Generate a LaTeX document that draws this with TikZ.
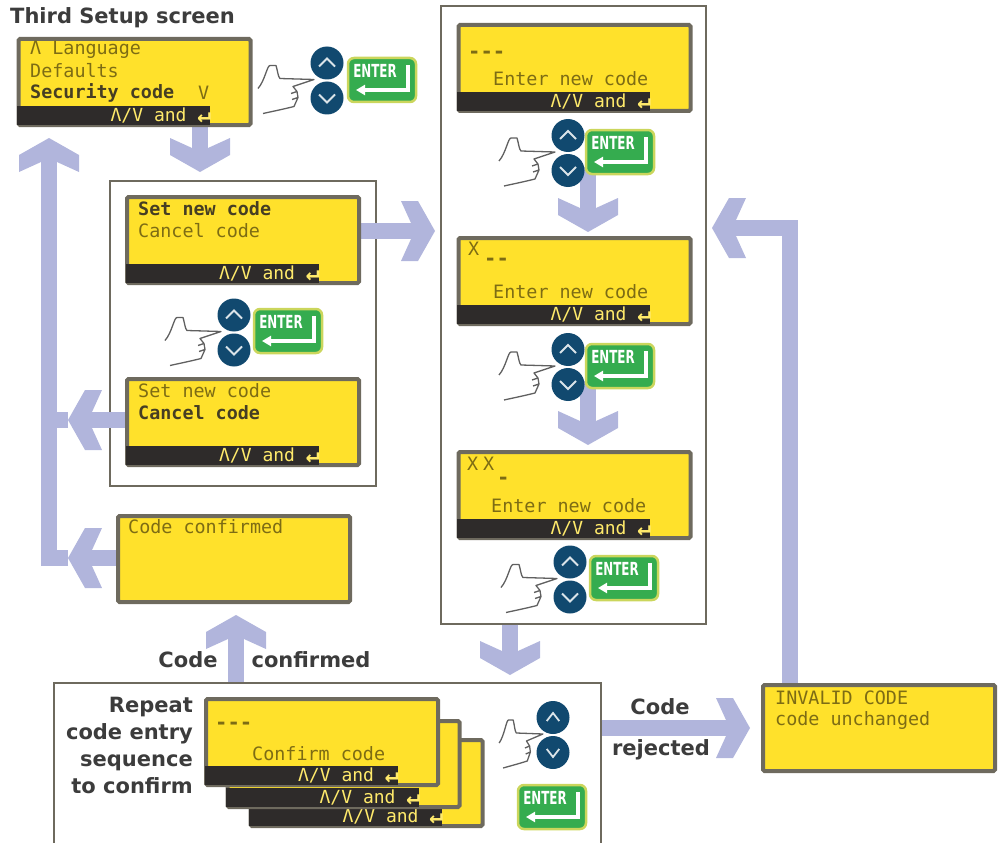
\documentclass[tikz,border=0pt]{standalone}
\usepackage{fontspec}
\setmainfont{DejaVu Sans}
\newfontfamily\lcdfont{DejaVu Sans Mono}
\usetikzlibrary{arrows.meta,backgrounds}
\definecolor{lcdyellow}{HTML}{FFE12B}
\definecolor{lcdframe}{HTML}{6E6A5E}
\definecolor{lcdink}{HTML}{7D6C14}
\definecolor{lcdbar}{HTML}{2E2B2A}
\definecolor{flowblue}{HTML}{B1B5DC}
\definecolor{keyblue}{HTML}{11496F}
\definecolor{keygreen}{HTML}{35AC4F}
\definecolor{keyrim}{HTML}{CBD65C}
\definecolor{inkgrey}{HTML}{3C3C3C}

% blunt wide head of the flow arrows
\pgfdeclarearrow{
    name=Blunt,
    setup code={
        \pgfarrowssetbackend{-34pt}
        \pgfarrowssetlineend{-20pt}
        \pgfarrowssettipend{0pt}
        \pgfarrowshullpoint{0pt}{0pt}
        \pgfarrowshullpoint{-34pt}{30pt}
        \pgfarrowshullpoint{-34pt}{-30pt}
    },
    drawing code={
        \pgfpathmoveto{\pgfpoint{0pt}{0pt}}
        \pgfpathlineto{\pgfpoint{-17pt}{30pt}}
        \pgfpathlineto{\pgfpoint{-34pt}{30pt}}
        \pgfpathlineto{\pgfpoint{-24pt}{8pt}}
        \pgfpathlineto{\pgfpoint{-24pt}{-8pt}}
        \pgfpathlineto{\pgfpoint{-34pt}{-30pt}}
        \pgfpathlineto{\pgfpoint{-17pt}{-30pt}}
        \pgfpathclose
        \pgfusepathqfill
    }
}

% one display: name, x, y of its centre
\newcommand{\lcdscreen}[3]{
    \node[screen] (#1) at (#2,#3) {};
}
% the dark line at the foot of a display
\newcommand{\lcdsoft}[1]{
    \node[softbar] (#1bar) at ([shift={(0.5,-1.5)}]#1.south west) {};
    \node[softtext] (#1soft) at ([xshift=1pt]#1bar.east) {Λ/V and \raisebox{-1pt}{\fontsize{23}{23}\selectfont\bfseries ↵}};
}

\tikzset{
    handkeys/.pic={
        \draw[hand] (-69,8) .. controls (-62,0) and (-60,-15) .. (-57,-15) -- (-51,-15) .. controls (-49,-8) and (-49,-4) .. (-47,-2)
            -- (-13,-1) -- (-34,6) -- (-30,11) -- (-36,13) (-30,11) -- (-29,17) -- (-35,19) (-29,17) -- (-33,26) .. controls (-45,29) and (-55,31) .. (-64,33);
        \node[keyround] (-up) at (0,-17.5) {};
        \node[keyround] (-down) at (0,17.5) {};
        \draw[keymark] (-8,-14) -- (0,-22) -- (8,-14);
        \draw[keymark] (-8,14) -- (0,22) -- (8,14);
    },
    enterkey/.pic={
        \node[keyplate] (-plate) at (0,0) {};
        \node[keytext] (-text) at (-7,-9) {ENTER};
        \draw[keyback,-{Triangle[length=9pt,width=10pt]}] (26,-15) -- (26,10) -- (-26,10);
    }
}

\begin{document}
\begin{tikzpicture}[x=1pt,y=-1pt]
    \tikzstyle{screen}=[draw=lcdframe,fill=lcdyellow,line width=4pt,rounded corners=1.5pt,minimum width=232pt,minimum height=86pt,inner sep=0pt]
    \tikzstyle{softbar}=[anchor=south west,fill=lcdbar,minimum width=193pt,minimum height=19pt,inner sep=0pt]
    \tikzstyle{softtext}=[anchor=east,text=lcdyellow!70!white,font=\lcdfont\fontsize{18}{18}\selectfont,inner sep=0pt]
    \tikzstyle{lcdline}=[anchor=west,text=lcdink,font=\lcdfont\fontsize{18.4}{18.4}\selectfont,inner sep=0pt]
    \tikzstyle{lcdbold}=[lcdline,text=lcdbar!70!lcdink,font=\lcdfont\bfseries\fontsize{18.4}{18.4}\selectfont]
    \tikzstyle{lcddash}=[lcdline,font=\lcdfont\bfseries\fontsize{20.5}{20.5}\selectfont]
    \tikzstyle{group}=[draw=lcdframe,line width=1.6pt,anchor=north west,inner sep=0pt]
    \tikzstyle{flow}=[draw=flowblue,line width=16pt,-Blunt]
    \tikzstyle{flowtail}=[draw=flowblue,line width=16pt]
    \tikzstyle{caption}=[text=inkgrey,font=\bfseries\fontsize{21}{27}\selectfont,inner sep=0pt]
    \tikzstyle{hand}=[draw=gray!75!black,line width=1.3pt,line join=round]
    \tikzstyle{keyround}=[circle,fill=keyblue,minimum size=33pt,inner sep=0pt]
    \tikzstyle{keymark}=[draw=white!85!keyblue,line width=1.8pt]
    \tikzstyle{keyplate}=[draw=keyrim,fill=keygreen,line width=2.5pt,rounded corners=6pt,minimum width=68pt,minimum height=44pt]
    \tikzstyle{keytext}=[text=white,font=\bfseries\fontsize{18}{18}\selectfont,xscale=.66,inner sep=0pt]
    \tikzstyle{keyback}=[draw=white,line width=3.5pt]

    \useasboundingbox (0,0) rectangle (1005,843);
    \clip (0,0) rectangle (1005,843);

    \node[caption,anchor=west] (title) at (10,18) {Third Setup screen};

    % left column
    \lcdscreen{setup}{134.5}{82}
    \lcdsoft{setup}
    \node[lcdline] (setupa) at (30,50) {Λ Language};
    \node[lcdline] (setupb) at (30,71) {Defaults};
    \node[lcdbold] (setupc) at (30,93) {Security code};
    \node[lcdline] (setupd) at (198,93) {V};
    \pic (keysa) at (327,80.5) {handkeys};
    \pic (entera) at (382,80) {enterkey};

    \lcdscreen{setcode}{243}{240}
    \lcdsoft{setcode}
    \node[lcdbold] (setcodea) at (138,209) {Set new code};
    \node[lcdline] (setcodeb) at (138,231) {Cancel code};
    \pic (keysb) at (234,332.5) {handkeys};
    \pic (enterb) at (288,331) {enterkey};

    \lcdscreen{cancel}{243}{422}
    \lcdsoft{cancel}
    \node[lcdline] (cancela) at (138,391) {Set new code};
    \node[lcdbold] (cancelb) at (138,413) {Cancel code};

    \lcdscreen{confirmed}{234}{559}
    \node[lcdline] (confirmeda) at (128,527) {Code confirmed};

    % right column
    \lcdscreen{first}{574.5}{68}
    \lcdsoft{first}
    \node[lcddash] (firsta) at (468,55) {-{}-{}-};
    \node[lcdline] (firstb) at (493,79) {Enter new code};
    \pic (keysc) at (568,153) {handkeys};
    \pic (enterc) at (620,152) {enterkey};

    \lcdscreen{second}{574.5}{281}
    \lcdsoft{second}
    \node[lcdline] (seconda) at (468,249) {X};
    \node[lcddash] (secondb) at (484,262) {-{}-};
    \node[lcdline] (secondc) at (493,292) {Enter new code};
    \pic (keysd) at (568,367) {handkeys};
    \pic (enterd) at (620,366) {enterkey};

    \lcdscreen{third}{574.5}{495}
    \lcdsoft{third}
    \node[lcdline] (thirda) at (467,464) {X};
    \node[lcdline] (thirdb) at (483,464) {X};
    \node[lcddash] (thirdc) at (497,481) {-};
    \node[lcdline] (thirdd) at (491,506) {Enter new code};
    \pic (keyse) at (570,579.5) {handkeys};
    \pic (entere) at (624,578) {enterkey};

    % repeat group, back to front
    \lcdscreen{repeatc}{366.5}{783}
    \lcdsoft{repeatc}
    \lcdscreen{repeatb}{343.5}{764}
    \lcdsoft{repeatb}
    \lcdscreen{repeata}{322}{742}
    \lcdsoft{repeata}
    \node[lcddash] (repeataa) at (215,726) {-{}-{}-};
    \node[lcdline] (repeatab) at (252,754) {Confirm code};
    \pic[xscale=.78] (keysf) at (553,735) {handkeys};
    \pic (enterf) at (552,807) {enterkey};

    \node[caption,anchor=east,align=right] (repeatnote) at (193,745) {Repeat\\code entry\\sequence\\to confirm};
    \node[caption] (codea) at (188,660) {Code};
    \node[caption] (codeb) at (311,660) {confirmed};
    \node[caption] (codec) at (660,707) {Code};
    \node[caption] (coded) at (661,750) {rejected};

    \lcdscreen{invalid}{879}{728}
    \node[lcdline] (invalida) at (775,698) {INVALID CODE};
    \node[lcdline] (invalidb) at (775,720) {code unchanged};

    % boxes and the wide arrows go behind everything
    \begin{scope}[on background layer]
        \node[group,minimum width=266pt,minimum height=305pt] (boxset) at (109,180) {};
        \node[group,minimum width=265pt,minimum height=618pt] (boxentry) at (440,5) {};
        \node[group,minimum width=547pt,minimum height=200pt] (boxrepeat) at (53,682) {};

        \coordinate (tipa) at (200,172);
        \coordinate (tipb) at (435,231);
        \coordinate (tipc) at (588,232);
        \coordinate (tipd) at (588,445);
        \coordinate (tipe) at (510,675);
        \coordinate (tipf) at (236,615);
        \coordinate (tipg) at (750,728);
        \coordinate (tiph) at (712,228);
        \coordinate (tipi) at (49,138);
        \coordinate (tipj) at (68,420);
        \coordinate (tipk) at (68,558);
        \coordinate (bendh) at (790,228);

        \draw[flow] (tipa |- setup.south) -- (tipa);
        \draw[flow] (setcode.east |- tipb) -- (tipb);
        \draw[flow] (keysc-down.south -| tipc) ++(0,-20) -- (tipc);
        \draw[flow] (keysd-down.south -| tipd) ++(0,-20) -- (tipd);
        \draw[flow] (boxentry.south -| tipe) -- (tipe);
        \draw[flow] (boxrepeat.north -| tipf) -- (tipf);
        \draw[flow] (boxrepeat.east |- tipg) -- (tipg);
        \draw[flow] (bendh |- invalid.north) -- (bendh) -- (tiph);
        \draw[flow] (tipi |- tipk) ++(0,8) -- (tipi);
        \draw[flow] (cancel.west |- tipj) -- (tipj);
        \draw[flow] (confirmed.west |- tipk) -- (tipk);
        \draw[flowtail] (tipj) -- ++(-20,0);
        \draw[flowtail] (tipk) -- ++(-20,0);
    \end{scope}
\end{tikzpicture}
\end{document}
